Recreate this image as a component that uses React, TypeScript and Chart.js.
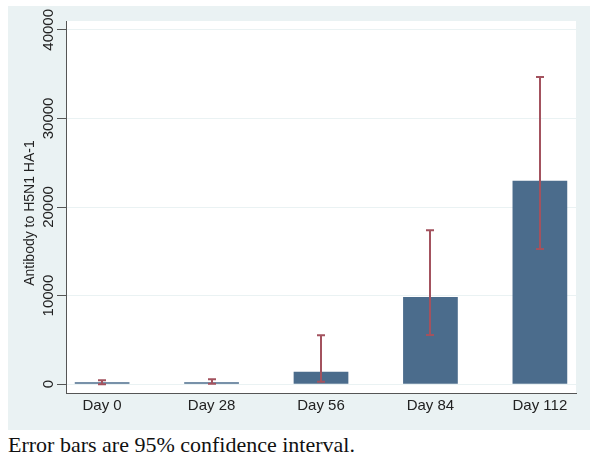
import React, { useEffect, useRef } from "react";
import { Chart, registerables } from "chart.js";

Chart.register(...registerables);

const categories = ["Day 0", "Day 28", "Day 56", "Day 84", "Day 112"];
const means = [200, 200, 1400, 9850, 22950];
const ciLow = [0, 50, 270, 5550, 15250];
const ciHigh = [450, 560, 5530, 17380, 34680];
const yTicks = [0, 10000, 20000, 30000, 40000];
const yTitle = "Antibody to H5N1 HA-1";
const caption = "Error bars are 95% confidence interval.";

const PANEL = "#EAF2F3";
const BAR = "#4B6C8C";
const ERR = "#A3525E";
const SANS = "'Liberation Sans', Arial, sans-serif";

const backgroundPlugin = {
  id: "stataBackground",
  beforeDraw(chart: any) {
    const { ctx, chartArea, width, height } = chart;
    ctx.save();
    ctx.fillStyle = "#ffffff";
    ctx.fillRect(0, 0, width, height);
    ctx.fillStyle = PANEL;
    ctx.fillRect(8, 6, 582, height - 8);
    ctx.fillStyle = "#ffffff";
    ctx.fillRect(chartArea.left, chartArea.top, chartArea.right - chartArea.left, chartArea.bottom - chartArea.top);
    ctx.restore();
  },
};

const errorBarPlugin = {
  id: "errorBars",
  afterDatasetsDraw(chart: any) {
    const { ctx } = chart;
    const xs = chart.scales.x;
    const ys = chart.scales.y;
    ctx.save();
    ctx.strokeStyle = ERR;
    ctx.lineWidth = 2;
    const cap = 4;
    categories.forEach((_, i) => {
      const x = Math.round(xs.getPixelForValue(i));
      const yl = ys.getPixelForValue(ciLow[i]);
      const yh = ys.getPixelForValue(ciHigh[i]);
      ctx.beginPath();
      ctx.moveTo(x, yl);
      ctx.lineTo(x, yh);
      ctx.moveTo(x - cap, yl);
      ctx.lineTo(x + cap, yl);
      ctx.moveTo(x - cap, yh);
      ctx.lineTo(x + cap, yh);
      ctx.stroke();
    });
    ctx.restore();
  },
};

const yLabelPlugin = {
  id: "yLabels",
  afterDraw(chart: any) {
    const { ctx, chartArea } = chart;
    const ys = chart.scales.y;
    ctx.save();
    ctx.fillStyle = "#222222";
    ctx.font = `15px ${SANS}`;
    ctx.textAlign = "center";
    ctx.textBaseline = "middle";
    yTicks.forEach((t) => {
      const y = ys.getPixelForValue(t);
      ctx.save();
      ctx.translate(49, y);
      ctx.rotate(-Math.PI / 2);
      ctx.fillText(String(t), 0, 0);
      ctx.restore();
    });
    ctx.font = `14px ${SANS}`;
    ctx.save();
    ctx.translate(30, (chartArea.top + chartArea.bottom) / 2 + 6);
    ctx.rotate(-Math.PI / 2);
    ctx.fillText(yTitle, 0, 0);
    ctx.restore();
    ctx.restore();
  },
};

export default function App() {
  const ref = useRef<HTMLCanvasElement>(null);
  useEffect(() => {
    if (!ref.current) return;
    const chart = new Chart(ref.current, {
      type: "bar",
      data: {
        datasets: [
          {
            data: means.map((v, i) => ({ x: i, y: v })),
            backgroundColor: BAR,
            borderWidth: 0,
            barPercentage: 0.5,
            categoryPercentage: 1,
          },
        ],
      },
      options: {
        animation: false,
        responsive: false,
        maintainAspectRatio: false,
        layout: { padding: { left: 8, top: 21, right: 24, bottom: 2 } },
        plugins: { legend: { display: false }, tooltip: { enabled: false } },
        scales: {
          x: {
            type: "linear",
            min: -0.33,
            max: 4.33,
            offset: false,
            afterBuildTicks: (s: any) => {
              s.ticks = categories.map((_, i) => ({ value: i }));
            },
            afterFit: (s: any) => {
              s.height = 37;
            },
            grid: { display: false, drawTicks: false, offset: false },
            border: { display: true, color: "#555555", width: 1 },
            ticks: {
              padding: 4,
              color: "#222222",
              font: { family: SANS, size: 15 },
              callback: (v: any) => categories[Math.round(Number(v))] ?? "",
              maxRotation: 0,
              minRotation: 0,
            },
          },
          y: {
            min: -1000,
            max: 41000,
            afterBuildTicks: (s: any) => {
              s.ticks = yTicks.map((v) => ({ value: v }));
            },
            afterFit: (s: any) => {
              s.width = 58;
            },
            grid: {
              color: PANEL,
              lineWidth: 1,
              tickColor: "#555555",
              tickLength: 9,
              drawTicks: true,
            },
            border: { display: true, color: "#555555", width: 1 },
            ticks: { color: "rgba(0,0,0,0)", font: { family: SANS, size: 15 } },
          },
        },
      },
      plugins: [backgroundPlugin, errorBarPlugin, yLabelPlugin],
    });
    return () => chart.destroy();
  }, []);

  return (
    <div style={{ position: "absolute", left: 0, top: 0, width: 600, height: 464, background: "#fff" }}>
      <canvas ref={ref} width={600} height={432} style={{ display: "block", width: 600, height: 432 }} />
      <div
        style={{
          position: "absolute",
          left: 8,
          top: 432,
          fontFamily: "'Liberation Serif', 'Times New Roman', serif",
          fontSize: 22,
          lineHeight: "26px",
          color: "#111",
          whiteSpace: "nowrap",
        }}
      >
        {caption}
      </div>
    </div>
  );
}
